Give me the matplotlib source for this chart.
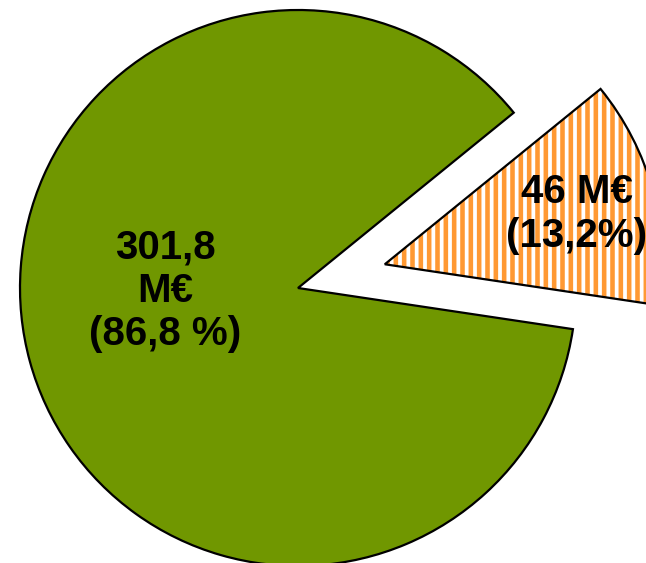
import matplotlib
matplotlib.use("Agg")
import matplotlib.pyplot as plt

# budget split, M€
labels = ["301,8\nM€\n(86,8 %)", "46 M€\n(13,2%)"]
values = [301.8, 46]
explode = [0, 90]   # data units (pixels here)

green = "#709700"
orange = "#FF9933"

plt.rcParams["font.family"] = ["Liberation Sans", "DejaVu Sans"]
plt.rcParams["hatch.linewidth"] = 3.3

fig = plt.figure(figsize=(6.46, 5.63), dpi=100)
ax = fig.add_axes([0, 0, 1, 1])

cx, cy, r = 298, 275, 278
start = 39.1

# fill layer (hatch colour comes from edgecolor)
w_fill, _ = ax.pie(values, explode=explode, startangle=start, center=(cx, cy),
                   radius=r, colors=[green, "white"], frame=True,
                   wedgeprops=dict(linewidth=0))
w_fill[0].set_edgecolor(green)
w_fill[1].set_edgecolor(orange)
w_fill[1].set_hatch("||")

# outline layer
w_line, _ = ax.pie(values, explode=explode, startangle=start, center=(cx, cy),
                   radius=r, frame=True,
                   wedgeprops=dict(fill=False, edgecolor="black", linewidth=1.6))

ax.set_xlim(0, 646)
ax.set_ylim(0, 563)
ax.axis("off")

ax.text(165, 272, labels[0], ha="center", va="center", fontsize=29,
        fontweight="bold", linespacing=1.17)
ax.text(577, 349, labels[1], ha="center", va="center", fontsize=29,
        fontweight="bold", linespacing=1.17)

fig.savefig("out.png", dpi=100)
